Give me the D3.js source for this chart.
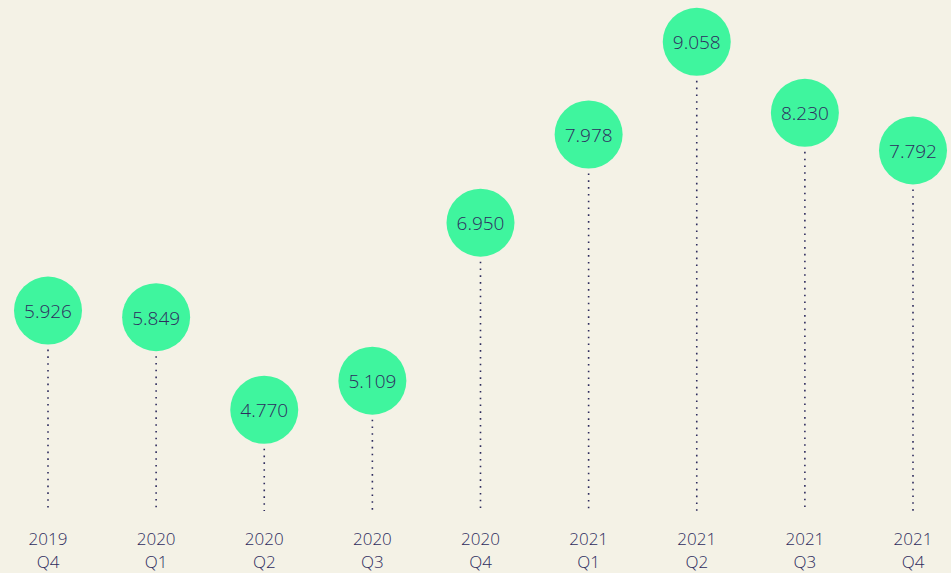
<!DOCTYPE html>
<html>
<head>
<meta charset="utf-8">
<script src="https://cdn.jsdelivr.net/npm/d3@7"></script>
<style>
  html, body { margin: 0; padding: 0; background: #f4f2e6; }
  svg { display: block; }
</style>
</head>
<body>
<svg width="951" height="573"></svg>
<script>
"use strict";

// Chart data
var years    = ["2019", "2020", "2020", "2020", "2020", "2021", "2021", "2021", "2021"];
var quarters = ["Q4", "Q1", "Q2", "Q3", "Q4", "Q1", "Q2", "Q3", "Q4"];
var values   = [5.926, 5.849, 4.770, 5.109, 6.950, 7.978, 9.058, 8.230, 7.792];
var valueLabels = ["5.926", "5.849", "4.770", "5.109", "6.950", "7.978", "9.058", "8.230", "7.792"];

var keys = years.map(function(y, i) { return y + " " + quarters[i]; });

var svg = d3.select("svg");
var radius = 34;
var lineBottom = 511;

// Scales
var xScale = d3.scalePoint()
    .domain(keys)
    .range([48, 913]);

var yScale = d3.scaleLinear()
    .domain([0, 10])
    .range([819, -39]);

var textColor = "#2e2c5e";
var fontFamily = "'Open Sans', 'Noto Sans', sans-serif";

var items = svg.append("g")
    .selectAll("g")
    .data(values)
    .enter().append("g")
    .attr("transform", function(d, i) { return "translate(" + xScale(keys[i]) + ",0)"; });

// Dotted stems
items.append("line")
    .attr("x1", 0)
    .attr("x2", 0)
    .attr("y1", function(d) { return yScale(d) + radius + 5; })
    .attr("y2", lineBottom)
    .attr("stroke", textColor)
    .attr("stroke-width", 1.6)
    .attr("stroke-dasharray", "1.6,5.2");

// Bubbles
items.append("circle")
    .attr("cx", 0)
    .attr("cy", function(d) { return yScale(d); })
    .attr("r", radius)
    .attr("fill", "#3ff59e");

// Value labels
items.append("text")
    .attr("x", 0)
    .attr("y", function(d) { return yScale(d) + 7.5; })
    .attr("text-anchor", "middle")
    .style("font-family", fontFamily)
    .style("font-weight", 300)
    .style("font-size", "19px")
    .style("fill", textColor)
    .text(function(d, i) { return valueLabels[i]; });

// Category labels (year over quarter)
items.append("text")
    .attr("x", 0)
    .attr("y", 545)
    .attr("text-anchor", "middle")
    .style("font-family", fontFamily)
    .style("font-weight", 300)
    .style("font-size", "17px")
    .style("fill", textColor)
    .text(function(d, i) { return years[i]; });

items.append("text")
    .attr("x", 0)
    .attr("y", 568)
    .attr("text-anchor", "middle")
    .style("font-family", fontFamily)
    .style("font-weight", 300)
    .style("font-size", "17px")
    .style("fill", textColor)
    .text(function(d, i) { return quarters[i]; });
</script>
</body>
</html>
